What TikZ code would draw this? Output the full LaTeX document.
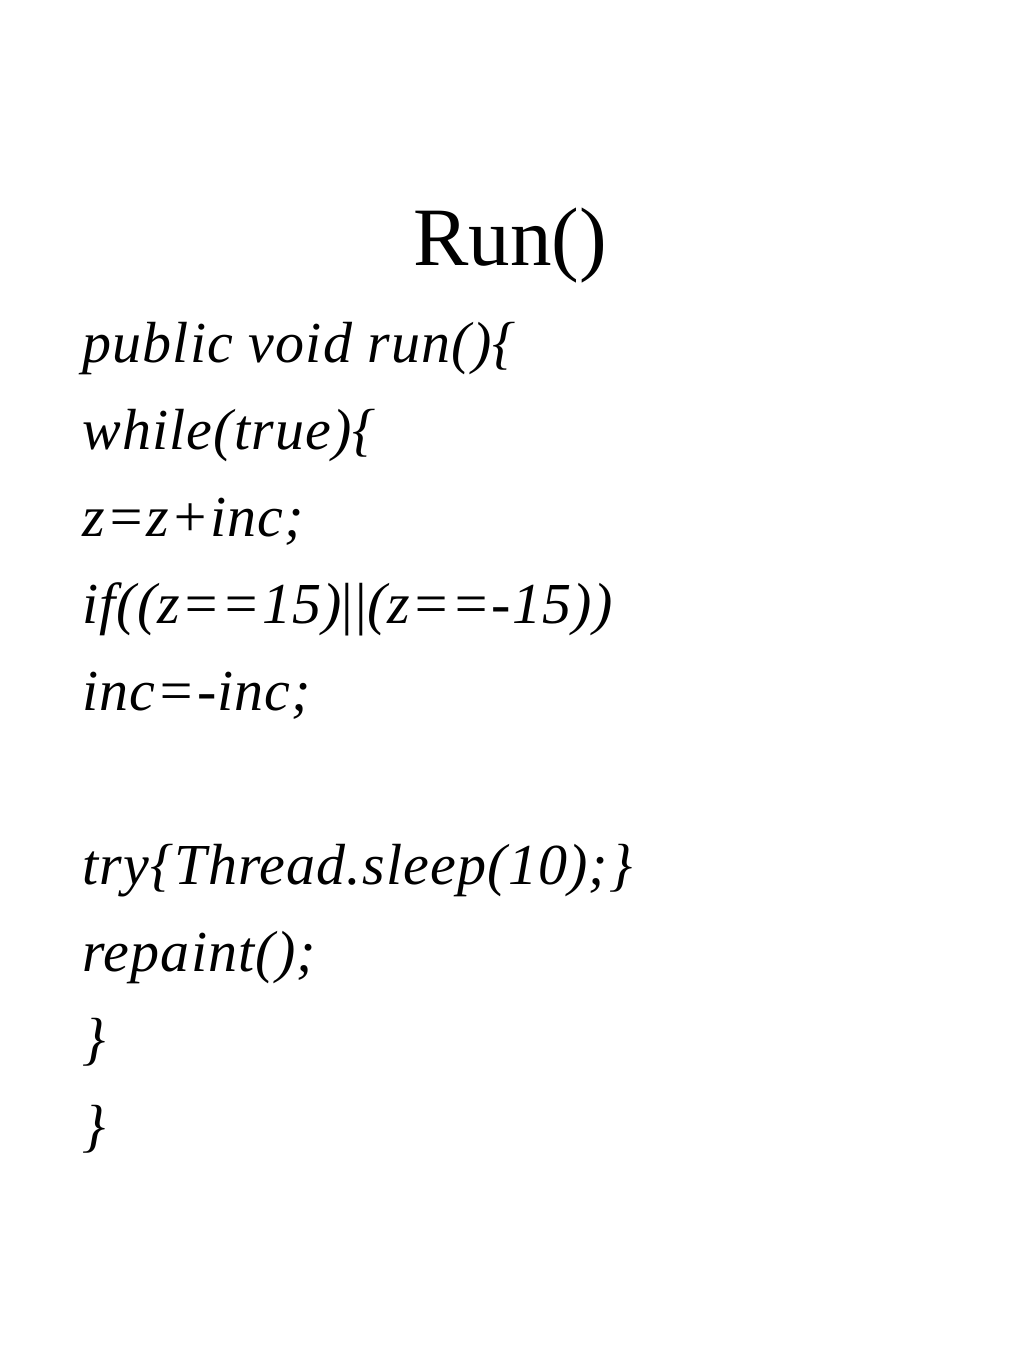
\documentclass[tikz,border=0pt]{standalone}
\usepackage{fontspec}
\setmainfont{Liberation Serif}
\newfontfamily\codefont[LetterSpace=2.0]{Liberation Serif}

\begin{document}
\begin{tikzpicture}[x=1pt,y=1pt,
        titlestyle/.style={font=\fontsize{41.5}{50}\selectfont, anchor=base, inner sep=0pt},
        codestyle/.style={font=\codefont\fontsize{29}{35}\selectfont\itshape, anchor=base west, inner sep=0pt}]
        \useasboundingbox[fill=white] (0,0) rectangle (512,-682.5);

        \node[titlestyle] (title) at (255,-132.5) {Run()};

        \node[codestyle] (l1) at (41,-181) {public void run()\{};
        \node[codestyle] (l2) at (41,-224.5) {while(true)\{};
        \node[codestyle] (l3) at (41,-268) {z=z+inc;};
        \node[codestyle] (l4) at (41,-311.5) {if((z==15){\upshape|\kern1pt|}(z==-15))};
        \node[codestyle] (l5) at (41,-355) {inc=-inc;};

        \node[codestyle] (l6) at (41,-442) {try\{Thread.sleep(10);\}};
        \node[codestyle] (l7) at (41,-485.5) {repaint();};
        \node[codestyle] (l8) at (41,-529) {\}};
        \node[codestyle] (l9) at (41,-572.5) {\}};
      \end{tikzpicture}
\end{document}
